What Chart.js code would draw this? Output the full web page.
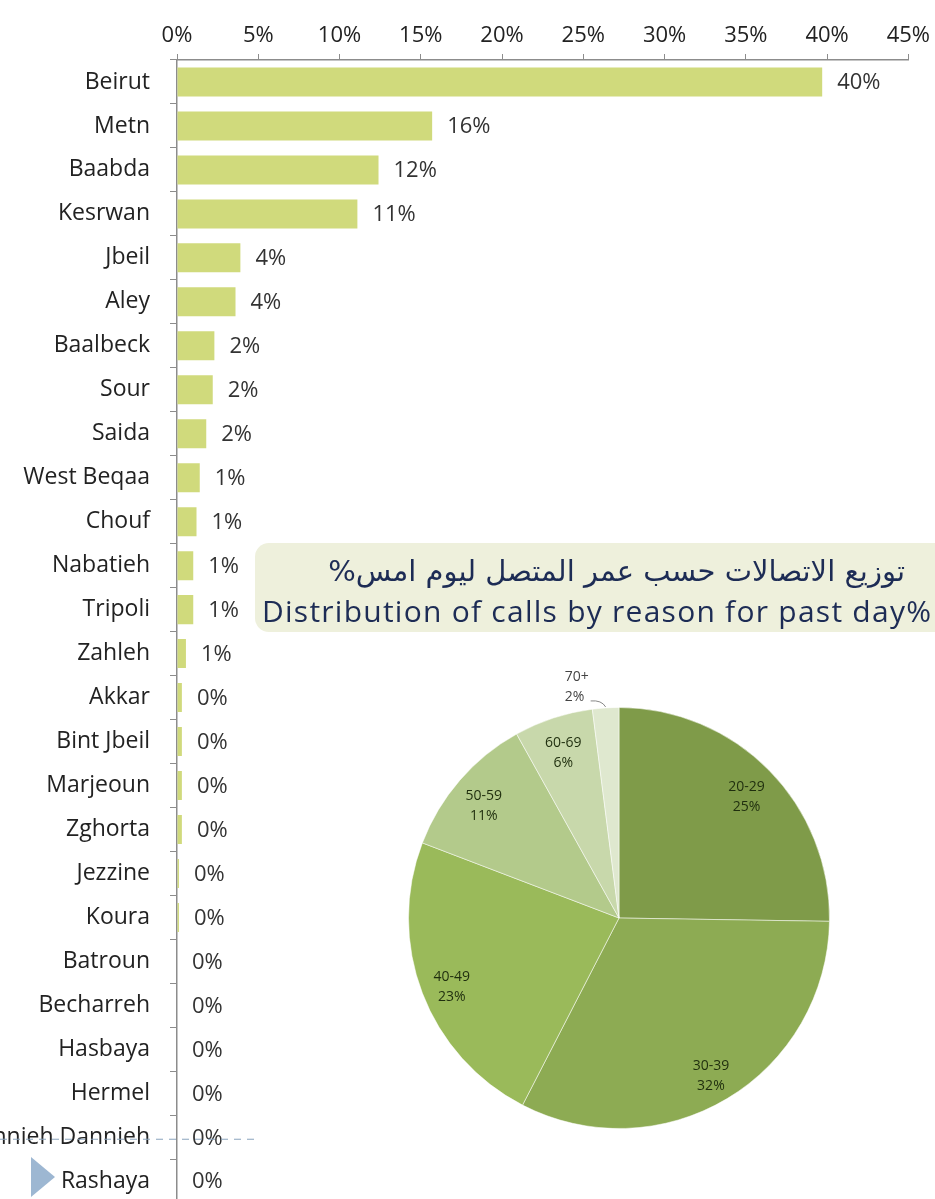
<!DOCTYPE html>
<html>
<head>
<meta charset="utf-8">
<script src="https://cdn.jsdelivr.net/npm/chart.js@4.4.1/dist/chart.umd.min.js"></script>
<style>
  html, body { margin: 0; padding: 0; background: #fff; overflow: hidden; width: 935px; height: 1199px; }
  #barChart { position: absolute; left: 0; top: 0; }
  #pieChart { position: absolute; left: 359px; top: 658px; }
  .titleBox {
    position: absolute; left: 255px; top: 543px; width: 700px; height: 89px;
    background: #eef0dc; border-radius: 14px;
  }
  .titleBox .ar {
    position: absolute; right: 50px; top: 11px; direction: rtl;
    font: 29px "DejaVu Sans", sans-serif; color: #1d2c55; white-space: nowrap;
  }
  .titleBox .en {
    position: absolute; left: 7px; top: 47px; letter-spacing: 1.25px;
    font: 30px "Open Sans", sans-serif; color: #1d2c55; white-space: nowrap;
  }
  .marker {
    position: absolute; left: 31px; top: 1157px; width: 0; height: 0;
    border-left: 24px solid #9db7d2; border-top: 20px solid transparent; border-bottom: 20px solid transparent;
  }
</style>
</head>
<body>
<canvas id="barChart" width="935" height="1237"></canvas>
<div class="titleBox">
  <div class="ar">توزيع الاتصالات حسب عمر المتصل ليوم امس%</div>
  <div class="en">Distribution of calls by reason for past day%</div>
</div>
<canvas id="pieChart" width="520" height="520"></canvas>
<div class="marker"></div>
<script>
// regions and their share of calls (%)
const regions = ['Beirut', 'Metn', 'Baabda', 'Kesrwan', 'Jbeil', 'Aley', 'Baalbeck', 'Sour', 'Saida',
  'West Beqaa', 'Chouf', 'Nabatieh', 'Tripoli', 'Zahleh', 'Akkar', 'Bint Jbeil', 'Marjeoun', 'Zghorta',
  'Jezzine', 'Koura', 'Batroun', 'Becharreh', 'Hasbaya', 'Hermel', 'Minnieh Dannieh', 'Rashaya'];
const regionShare = [39.7, 15.7, 12.4, 11.1, 3.9, 3.6, 2.3, 2.2, 1.8,
  1.4, 1.2, 1.0, 1.0, 0.55, 0.3, 0.3, 0.3, 0.3,
  0.12, 0.12, 0, 0, 0, 0, 0, 0];
const xTicks = [0, 5, 10, 15, 20, 25, 30, 35, 40, 45];

// age groups of callers (%)
const ageGroups = ['20-29', '30-39', '40-49', '50-59', '60-69', '70+'];
const ageShare = [25, 32, 23, 11, 6, 2];
const ageColors = ['#7f9b49', '#8dab53', '#9aba5a', '#b3ca8b', '#c8d8ab', '#dfe8cf'];

const axisGray = '#8c8c8c';
const labelFont = '"Open Sans"';

//draw value labels next to each bar
const barValueLabels = {
  id: 'barValueLabels',
  afterDatasetsDraw(chart) {
    const ctx = chart.ctx;
    const meta = chart.getDatasetMeta(0);
    ctx.save();
    ctx.font = '22px ' + labelFont;
    ctx.fillStyle = '#333';
    ctx.textAlign = 'left';
    ctx.textBaseline = 'middle';
    meta.data.forEach(function(bar, i){
      ctx.fillText(Math.round(regionShare[i]) + '%', bar.x + 15, bar.y + 1);
    });
    // the dashed guide running through the Minnieh Dannieh row
    const yLine = chart.scales.y.getPixelForValue(regions.indexOf('Minnieh Dannieh')) + 2;
    ctx.strokeStyle = '#8aa3bd';
    ctx.lineWidth = 1;
    ctx.setLineDash([7, 6]);
    ctx.beginPath();
    ctx.moveTo(0, yLine);
    ctx.lineTo(256, yLine);
    ctx.stroke();
    ctx.restore();
  }
};

new Chart(document.getElementById('barChart').getContext('2d'), {
  type: 'bar',
  data: {
    labels: regions,
    datasets: [{
      data: regionShare,
      backgroundColor: '#d0da7c',
      categoryPercentage: 1,
      barPercentage: 0.66
    }]
  },
  options: {
    indexAxis: 'y',
    responsive: false,
    animation: false,
    layout: { padding: { left: 0, top: 0, right: 23, bottom: 7 } },
    plugins: { legend: { display: false }, tooltip: { enabled: false } },
    scales: {
      x: {
        position: 'top',
        min: 0,
        max: 45,
        afterFit: function(scale){ scale.height = 60; },
        afterBuildTicks: function(scale){ scale.ticks = xTicks.map(function(v){ return { value: v }; }); },
        ticks: {
          callback: function(v){ return v + '%'; },
          font: { family: labelFont, size: 22 },
          color: '#222',
          padding: 5
        },
        grid: { drawOnChartArea: false, drawTicks: true, tickLength: 6, color: axisGray },
        border: { color: axisGray, width: 1.5 }
      },
      y: {
        afterFit: function(scale){ scale.width = 177; },
        ticks: {
          font: { family: labelFont, size: 23 },
          color: '#222',
          padding: 20,
          autoSkip: false
        },
        grid: { drawOnChartArea: false, drawTicks: true, tickLength: 7, color: axisGray, offset: true },
        border: { color: axisGray, width: 1.5 }
      }
    }
  },
  plugins: [barValueLabels]
});

//draw the age labels on the pie
const pieLabels = {
  id: 'pieLabels',
  afterDatasetsDraw(chart) {
    const ctx = chart.ctx;
    const meta = chart.getDatasetMeta(0);
    ctx.save();
    ctx.font = '14px "Open Sans"';
    ctx.textAlign = 'center';
    ctx.textBaseline = 'middle';
    meta.data.forEach(function(arc, i){
      const mid = (arc.startAngle + arc.endAngle) / 2;
      const r = arc.outerRadius;
      const txt = [ageGroups[i], ageShare[i] + '%'];
      if (ageShare[i] < 3) {
        const ax = arc.x + Math.cos(mid) * r;
        const ay = arc.y + Math.sin(mid) * r;
        ctx.fillStyle = '#444';
        ctx.fillText(txt[0], ax - 29, ay - 31);
        ctx.fillText(txt[1], ax - 31, ay - 11);
        ctx.strokeStyle = '#888';
        ctx.lineWidth = 1;
        ctx.beginPath();
        ctx.moveTo(ax - 15, ay - 7);
        ctx.quadraticCurveTo(ax - 4, ay - 8, ax, ay - 1);
        ctx.stroke();
      } else {
        const d = r * 0.85;
        const x = arc.x + Math.cos(mid) * d;
        const y = arc.y + Math.sin(mid) * d + 5;
        ctx.fillStyle = '#1f2e0e';
        ctx.fillText(txt[0], x, y - 10);
        ctx.fillText(txt[1], x, y + 10);
      }
    });
    ctx.restore();
  }
};

new Chart(document.getElementById('pieChart').getContext('2d'), {
  type: 'pie',
  data: {
    labels: ageGroups,
    datasets: [{
      data: ageShare,
      backgroundColor: ageColors,
      borderColor: 'rgba(255,255,255,0.5)',
      borderWidth: 1
    }]
  },
  options: {
    responsive: false,
    animation: false,
    layout: { padding: 49 },
    plugins: { legend: { display: false }, tooltip: { enabled: false } }
  },
  plugins: [pieLabels]
});
</script>
</body>
</html>
